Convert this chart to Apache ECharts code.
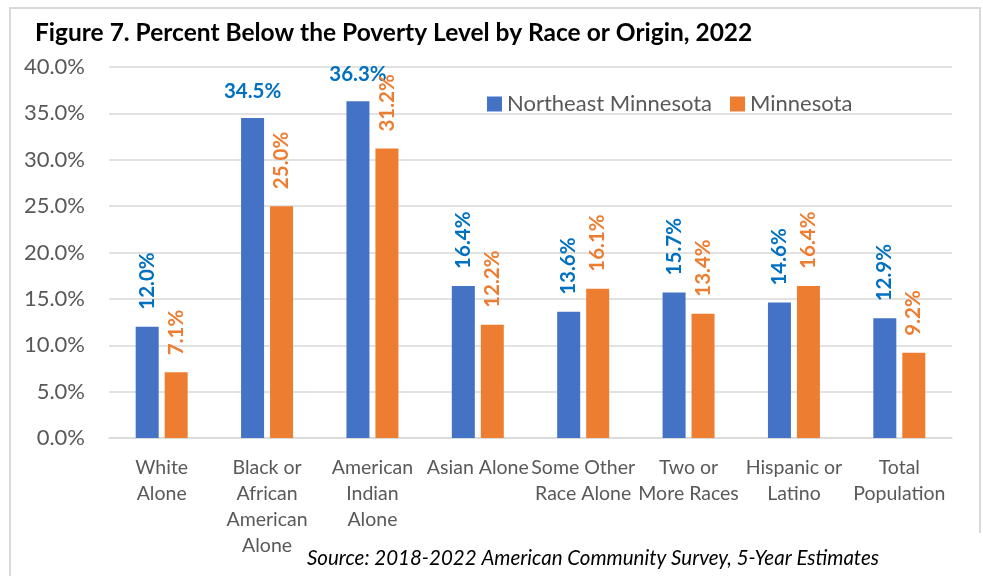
<!DOCTYPE html>
<html>
<head>
<meta charset="utf-8">
<script src="https://cdn.jsdelivr.net/npm/echarts@6/dist/echarts.min.js"></script>
<style>
  html, body { margin: 0; padding: 0; background: #fff; }
  #chart { width: 983px; height: 576px; }
</style>
</head>
<body>
<div id="chart"></div>
<script>
// data
const categories = [
  'White\nAlone',
  'Black or\nAfrican\nAmerican\nAlone',
  'American\nIndian\nAlone',
  'Asian Alone',
  'Some Other\nRace Alone',
  'Two or\nMore Races',
  'Hispanic or\nLatino',
  'Total\nPopulation'
]
const northeastMN = [12.0, 34.5, 36.3, 16.4, 13.6, 15.7, 14.6, 12.9]
const minnesota = [7.1, 25.0, 31.2, 12.2, 16.1, 13.4, 16.4, 9.2]
// which blue labels sit flat instead of rotated
const flatLabelIdx = [1, 2]

const FONT = 'Lato, "Open Sans", sans-serif'
const pct = v => v.toFixed(1) + '%'

// rotated label (reads bottom to top)
function vLabel (color) {
  return {
    show: true,
    position: 'top',
    rotate: 90,
    align: 'left',
    verticalAlign: 'middle',
    distance: 17,
    color: color,
    fontFamily: FONT,
    fontWeight: 'bold',
    fontSize: 20.5,
    formatter: p => pct(p.value)
  }
}

const blueData = northeastMN.map((v, i) => {
  if (flatLabelIdx.indexOf(i) === -1) return v
  return {
    value: v,
    label: { rotate: 0, align: 'center', verticalAlign: 'bottom', distance: 16 }
  }
})

const chart = echarts.init(document.getElementById('chart'), null, { renderer: 'canvas' })
const option = {
  animation: false,
  backgroundColor: '#fff',
  title: [
    {
      text: 'Figure 7. Percent Below the Poverty Level by Race or Origin, 2022',
      left: 30,
      top: 16,
      textStyle: { fontFamily: FONT, fontWeight: 'bold', fontSize: 24.5, color: '#000' }
    },
    {
      text: 'Source: 2018-2022 American Community Survey, 5-Year Estimates',
      left: 302,
      top: 543,
      textStyle: { fontFamily: FONT, fontStyle: 'italic', fontWeight: 'normal', fontSize: 20.5, color: '#000' }
    }
  ],
  graphic: [
    {
      type: 'rect',
      z: -10,
      shape: { x: 10, y: 8, width: 970, height: 620 },
      style: { fill: 'none', stroke: '#d9d9d9', lineWidth: 2 }
    },
    {
      type: 'rect',
      z: -9,
      shape: { x: 972, y: 533, width: 11, height: 43 },
      style: { fill: '#fff' }
    }
  ],
  legend: {
    left: 482,
    top: 88,
    icon: 'rect',
    itemWidth: 15,
    itemHeight: 15,
    itemGap: 18,
    textStyle: { fontFamily: FONT, fontSize: 22, color: '#595959' },
    data: ['Northeast Minnesota', 'Minnesota']
  },
  grid: { left: 109, right: 31, top: 67, bottom: 138 },
  xAxis: {
    type: 'category',
    data: categories,
    axisTick: { show: false },
    axisLine: { lineStyle: { color: '#d9d9d9', width: 1.5 } },
    axisLabel: {
      interval: 0,
      margin: 17,
      fontFamily: FONT,
      fontSize: 19.5,
      lineHeight: 26,
      color: '#595959'
    }
  },
  yAxis: {
    type: 'value',
    min: 0,
    max: 40,
    interval: 5,
    axisLine: { show: false },
    axisTick: { show: false },
    splitLine: { lineStyle: { color: '#d9d9d9', width: 1.5 } },
    axisLabel: {
      margin: 24,
      fontFamily: FONT,
      fontSize: 22,
      color: '#595959',
      formatter: v => pct(v)
    }
  },
  series: [
    {
      name: 'Northeast Minnesota',
      type: 'bar',
      data: blueData,
      barWidth: 23,
      barGap: '26%',
      itemStyle: { color: '#4472C4' },
      label: vLabel('#0070C0')
    },
    {
      name: 'Minnesota',
      type: 'bar',
      data: minnesota,
      barWidth: 23,
      itemStyle: { color: '#ED7D31' },
      label: vLabel('#ED7D31')
    }
  ]
}
chart.setOption(option)
</script>
</body>
</html>
